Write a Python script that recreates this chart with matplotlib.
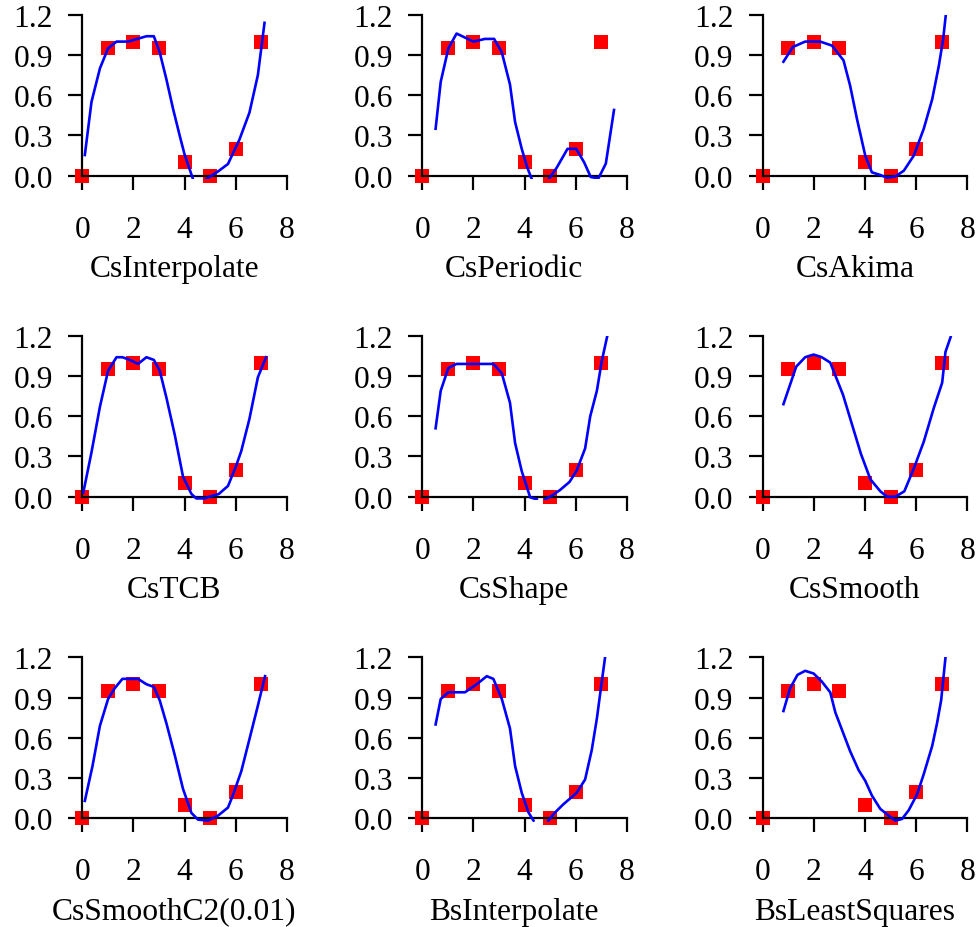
import matplotlib
matplotlib.use("Agg")
import matplotlib.pyplot as plt
import numpy as np

nan = np.nan

# data points, same in every panel
x_pts = [0, 1, 2, 3, 4, 5, 6, 7]
y_pts = [0.0, 0.95, 1.0, 0.95, 0.1, 0.0, 0.2, 1.0]

titles = ["CsInterpolate", "CsPeriodic", "CsAkima",
          "CsTCB", "CsShape", "CsSmooth",
          "CsSmoothC2(0.01)", "BsInterpolate", "BsLeastSquares"]

# fitted curves (nan = gap where the curve dips below the axis)
cs_interpolate_x = [0.10, 0.36, 0.69, 1.01, 1.34, 1.79, 2.51, 2.80, 3.03, 3.29, 3.55, 3.81, 4.0, 4.33,
                    nan, 4.85, 5.3, 5.7, 6.15, 6.54, 6.87, 7.13]
cs_interpolate_y = [0.154, 0.55, 0.80, 0.95, 1.0, 1.0, 1.04, 1.04, 0.92, 0.72, 0.50, 0.30, 0.16, -0.025,
                    nan, -0.025, 0.03, 0.087, 0.27, 0.47, 0.75, 1.14]

cs_periodic_x = [0.52, 0.72, 1.02, 1.34, 1.67, 2.0, 2.45, 2.81, 3.11, 3.43, 3.63, 3.89, 4.09, 4.28,
                 nan, 4.97, 5.26, 5.68, 6.02, 6.33, 6.59, 6.89, 7.18, 7.5]
cs_periodic_y = [0.35, 0.70, 0.95, 1.06, 1.03, 1.0, 1.02, 1.02, 0.92, 0.68, 0.40, 0.20, 0.07, -0.025,
                 nan, -0.02, 0.06, 0.20, 0.20, 0.10, -0.01, -0.02, 0.09, 0.49]

cs_akima_x = [0.81, 1.18, 1.66, 2.25, 2.71, 3.16, 3.42, 3.69, 4.01, 4.27, 4.6, 4.86, 5.19, 5.52,
              5.91, 6.3, 6.63, 6.89, 7.06, 7.16]
cs_akima_y = [0.85, 0.96, 1.0, 1.0, 0.97, 0.86, 0.67, 0.42, 0.15, 0.025, 0.005, -0.015, -0.005, 0.037,
              0.15, 0.35, 0.57, 0.82, 1.02, 1.195]

cs_tcb_x = [0.04, 0.36, 0.69, 1.01, 1.34, 1.57, 1.86, 2.18, 2.51, 2.80, 3.03, 3.29, 3.62, 3.94, 4.27,
            4.46, 4.79, 4.98, 5.34, 5.70, 6.02, 6.22, 6.54, 6.87, 7.19]
cs_tcb_y = [0.03, 0.33, 0.67, 0.94, 1.04, 1.04, 1.02, 0.99, 1.04, 1.02, 0.94, 0.74, 0.46, 0.15, 0.02,
            -0.013, -0.013, 0.0, 0.02, 0.08, 0.23, 0.34, 0.58, 0.89, 1.04]

cs_shape_x = [0.52, 0.72, 1.02, 1.34, 2.78, 3.11, 3.43, 3.63, 3.89, 4.22, 4.48,
              nan, 4.8, 5.07, 5.39, 5.76, 6.04, 6.37, 6.57, 6.83, 7.02, 7.25]
cs_shape_y = [0.51, 0.79, 0.96, 0.99, 0.99, 0.92, 0.70, 0.40, 0.19, -0.005, -0.02,
              nan, -0.02, 0.008, 0.05, 0.11, 0.195, 0.36, 0.60, 0.79, 1.01, 1.21]

cs_smooth_x = [0.81, 1.31, 1.66, 1.99, 2.31, 2.64, 3.14, 3.49, 3.84, 4.21, 4.6, 4.86, 5.19, 5.54,
               5.91, 6.3, 6.69, 7.02, 7.15, 7.35]
cs_smooth_y = [0.69, 0.97, 1.04, 1.06, 1.04, 1.0, 0.76, 0.54, 0.32, 0.13, 0.04, 0.0, 0.0, 0.04,
               0.21, 0.41, 0.66, 0.85, 1.08, 1.19]

cs_smooth_c2_x = [0.10, 0.40, 0.69, 1.01, 1.27, 1.57, 2.18, 2.51, 2.80, 3.03, 3.29, 3.62, 3.94, 4.27,
                  4.53, 4.92, 5.31, 5.70, 5.89, 6.22, 6.54, 6.87, 7.15]
cs_smooth_c2_y = [0.13, 0.39, 0.69, 0.89, 0.97, 1.04, 1.04, 1.0, 0.98, 0.88, 0.71, 0.47, 0.22, 0.04,
                  -0.01, -0.017, 0.02, 0.08, 0.17, 0.35, 0.59, 0.84, 1.06]

bs_interpolate_x = [0.52, 0.72, 1.02, 1.67, 2.13, 2.52, 2.78, 3.11, 3.43, 3.63, 3.89, 4.15, 4.35,
                    nan, 4.93, 5.2, 5.52, 6.04, 6.37, 6.63, 6.83, 6.98, 7.15]
bs_interpolate_y = [0.70, 0.89, 0.94, 0.94, 1.0, 1.06, 1.04, 0.89, 0.67, 0.39, 0.19, 0.045, -0.017,
                    nan, -0.017, 0.045, 0.105, 0.19, 0.29, 0.51, 0.745, 0.96, 1.2]

bs_least_squares_x = [0.81, 1.07, 1.36, 1.66, 1.99, 2.31, 2.64, 2.84, 3.16, 3.42, 3.75, 4.01, 4.27,
                      4.6, 4.93, 5.19, 5.45, 5.71, 6.04, 6.3, 6.63, 6.82, 6.98, 7.15]
bs_least_squares_y = [0.80, 0.97, 1.07, 1.10, 1.08, 1.02, 0.94, 0.79, 0.63, 0.50, 0.36, 0.28, 0.17,
                      0.07, 0.02, -0.017, -0.005, 0.06, 0.18, 0.33, 0.54, 0.71, 0.88, 1.2]

curves = [(cs_interpolate_x, cs_interpolate_y), (cs_periodic_x, cs_periodic_y),
          (cs_akima_x, cs_akima_y), (cs_tcb_x, cs_tcb_y), (cs_shape_x, cs_shape_y),
          (cs_smooth_x, cs_smooth_y), (cs_smooth_c2_x, cs_smooth_c2_y),
          (bs_interpolate_x, bs_interpolate_y), (bs_least_squares_x, bs_least_squares_y)]

plt.rcParams['font.family'] = ['Liberation Serif', 'DejaVu Serif']
plt.rcParams['font.size'] = 22.7

fig = plt.figure(figsize=(9.76, 9.28), dpi=100)

lefts = [0.0843, 0.4327, 0.7815]
bottoms = [0.8060, 0.4601, 0.1135]
width, height = 0.2095, 0.177

for i, (title, (cx, cy)) in enumerate(zip(titles, curves)):
    row, col = divmod(i, 3)
    ax = fig.add_axes([lefts[col], bottoms[row], width, height])

    # red squares first, blue line drawn over them
    ax.plot(x_pts, y_pts, 's', color='#ff0000', markersize=9.8, markeredgewidth=0,
            clip_on=False, zorder=2)
    ax.plot(cx, cy, '-', color='#0000ff', linewidth=1.9, zorder=3)

    ax.set_xlim(0, 8)
    ax.set_ylim(-0.025, 1.2)
    ax.set_xticks([0, 2, 4, 6, 8])
    ax.set_yticks([0.0, 0.3, 0.6, 0.9, 1.2])
    ax.set_yticklabels(["0.0", "0.3", "0.6", "0.9", "1.2"])

    ax.spines['top'].set_visible(False)
    ax.spines['right'].set_visible(False)
    ax.spines['bottom'].set_position(('data', 0))
    ax.spines['left'].set_bounds(0, 1.2)
    for s in ('left', 'bottom'):
        ax.spines[s].set_linewidth(1.6)

    ax.tick_params(direction='out', length=10, width=1.6, colors='black')
    ax.tick_params(axis='x', pad=18)
    ax.tick_params(axis='y', pad=11)
    ax.patch.set_visible(False)

    ax.set_xlabel(title, va='baseline')
    ax.xaxis.set_label_coords(0.45, -0.59)

fig.savefig("out.png", dpi=100)
